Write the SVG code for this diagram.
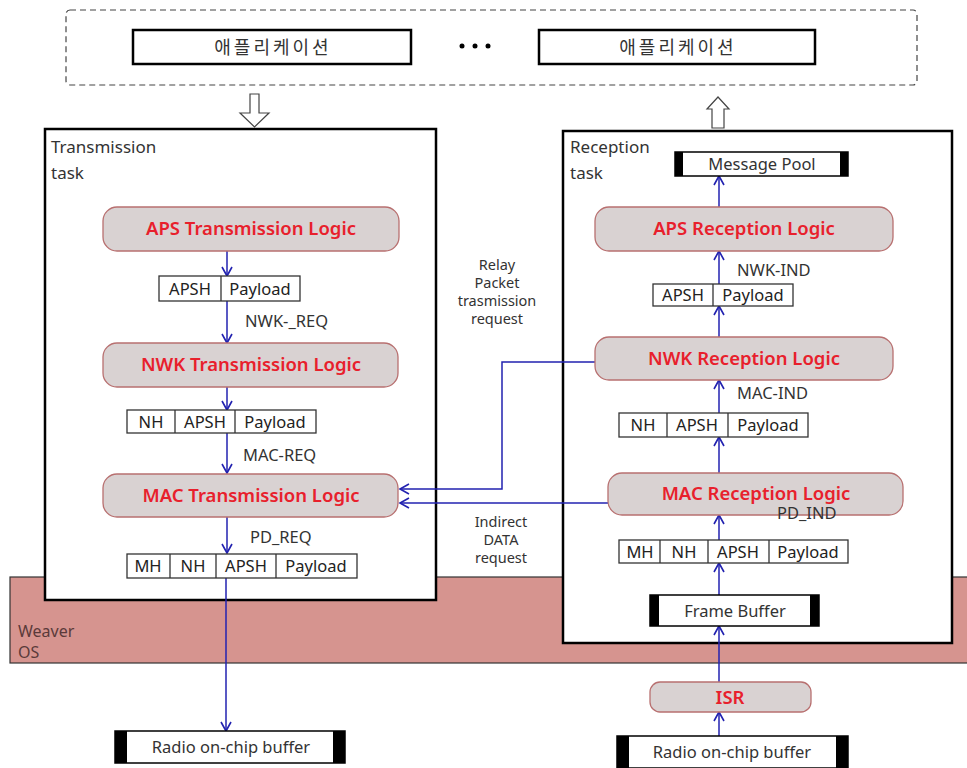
<svg xmlns="http://www.w3.org/2000/svg" width="967" height="768" viewBox="0 0 967 768">
<defs>
<marker id="ah" markerWidth="12" markerHeight="12" refX="10" refY="6" orient="auto" markerUnits="userSpaceOnUse">
<path d="M1,1 L10,6 L1,11" fill="none" stroke="#2222b0" stroke-width="1.6"/>
</marker>
</defs>
<style>
text{font-family:"Noto Sans","Noto Sans CJK KR",sans-serif;fill:#333}
.logic{fill:#d9d2d2;stroke:#b87070;stroke-width:1.3}
.lt{font-size:18.5px;font-weight:600;fill:#e8202c;text-anchor:middle}
.fld{fill:#fff;stroke:#333;stroke-width:1.3}
.ft{font-size:16.5px;fill:#222;text-anchor:middle}
.lbl{font-size:16.5px;fill:#333}
.task{fill:#fff;stroke:#000;stroke-width:2.5}
.buf{fill:#fff;stroke:#000;stroke-width:1.5}
.bar{fill:#000}
.bt{font-size:16.5px;fill:#333;text-anchor:middle}
.kr{font-size:18px;fill:#333;text-anchor:middle;letter-spacing:3px}
.con{fill:none;stroke:#2222b0;stroke-width:1.5}
.mid{font-size:14.5px;fill:#333;text-anchor:middle}
.hollow{fill:#fff;stroke:#444;stroke-width:1.2}
</style>
<rect width="967" height="768" fill="#fff"/>

<g id="weaver-os">
<rect x="10" y="577" width="960" height="86" fill="#d6948f" stroke="#333" stroke-width="1.2"/>
<text x="18" y="637" style="font-size:16px;fill:#5a3a3a">Weaver</text>
<text x="18" y="658" style="font-size:16px;fill:#5a3a3a">OS</text>
</g>

<g id="applications">
<rect x="66" y="10" width="851" height="75" rx="4" fill="#fff" stroke="#444" stroke-width="1.2" stroke-dasharray="6,4"/>
<g id="app1">
<rect x="133" y="30" width="278" height="34" fill="#fff" stroke="#000" stroke-width="2.5"/>
<text x="273" y="54" class="kr">애플리케이션</text>
</g>
<g id="dots">
<circle cx="462" cy="46" r="2.5" fill="#000"/>
<circle cx="475" cy="46" r="2.5" fill="#000"/>
<circle cx="488" cy="46" r="2.5" fill="#000"/>
</g>
<g id="app2">
<rect x="539" y="30" width="276" height="34" fill="#fff" stroke="#000" stroke-width="2.5"/>
<text x="678" y="54" class="kr">애플리케이션</text>
</g>
</g>

<g id="hollow-arrows">
<path class="hollow" d="M250,94 L259,94 L259,113 L269,113 L254.5,127 L240,113 L250,113 Z"/>
<path class="hollow" d="M712,128 L724,128 L724,109 L729,109 L718,97 L707,109 L712,109 Z"/>
</g>

<g id="transmission-task">
<rect class="task" x="45" y="129" width="391" height="471"/>
<text x="51" y="153" style="font-size:17px;fill:#333">Transmission</text>
<text x="51" y="179" style="font-size:17px;fill:#333">task</text>
</g>

<g id="reception-task">
<rect class="task" x="563" y="131" width="389" height="512"/>
<text x="570" y="153" style="font-size:17px;fill:#333">Reception</text>
<text x="570" y="179" style="font-size:17px;fill:#333">task</text>
</g>

<g id="connectors">
<line class="con" x1="227" y1="251" x2="227" y2="276" marker-end="url(#ah)"/>
<line class="con" x1="227" y1="301" x2="227" y2="343" marker-end="url(#ah)"/>
<line class="con" x1="227" y1="387" x2="227" y2="410" marker-end="url(#ah)"/>
<line class="con" x1="227" y1="433" x2="227" y2="473" marker-end="url(#ah)"/>
<line class="con" x1="227" y1="517" x2="227" y2="553" marker-end="url(#ah)"/>
<line class="con" x1="226" y1="578" x2="226" y2="731" marker-end="url(#ah)"/>
<polyline class="con" points="595,362 502,362 502,489 400,489" marker-end="url(#ah)"/>
<line class="con" x1="608" y1="503" x2="400" y2="503" marker-end="url(#ah)"/>
<line class="con" x1="719" y1="207" x2="719" y2="176" marker-end="url(#ah)"/>
<line class="con" x1="719" y1="284" x2="719" y2="251" marker-end="url(#ah)"/>
<line class="con" x1="719" y1="337" x2="719" y2="306" marker-end="url(#ah)"/>
<line class="con" x1="719" y1="413" x2="719" y2="380" marker-end="url(#ah)"/>
<line class="con" x1="719" y1="473" x2="719" y2="437" marker-end="url(#ah)"/>
<line class="con" x1="719" y1="540" x2="719" y2="515" marker-end="url(#ah)"/>
<line class="con" x1="719" y1="595" x2="719" y2="563" marker-end="url(#ah)"/>
<line class="con" x1="719" y1="682" x2="719" y2="626" marker-end="url(#ah)"/>
<line class="con" x1="719" y1="736" x2="719" y2="712" marker-end="url(#ah)"/>
</g>

<g id="aps-tx">
<rect class="logic" x="103" y="207" width="296" height="44" rx="14"/>
<text class="lt" x="251" y="235">APS Transmission Logic</text>
</g>
<g id="frame-tx-1">
<rect class="fld" x="159" y="276" width="141" height="25"/>
<line x1="221" y1="276" x2="221" y2="301" stroke="#333" stroke-width="1.3"/>
<text class="ft" x="190" y="295">APSH</text>
<text class="ft" x="260" y="295">Payload</text>
</g>
<text class="lbl" x="245" y="327">NWK-_REQ</text>
<g id="nwk-tx">
<rect class="logic" x="103" y="343" width="295" height="44" rx="14"/>
<text class="lt" x="251" y="371">NWK Transmission Logic</text>
</g>
<g id="frame-tx-2">
<rect class="fld" x="127" y="410" width="189" height="23"/>
<line x1="175" y1="410" x2="175" y2="433" stroke="#333" stroke-width="1.3"/>
<line x1="235" y1="410" x2="235" y2="433" stroke="#333" stroke-width="1.3"/>
<text class="ft" x="151" y="428">NH</text>
<text class="ft" x="205" y="428">APSH</text>
<text class="ft" x="275" y="428">Payload</text>
</g>
<text class="lbl" x="243" y="461">MAC-REQ</text>
<g id="mac-tx">
<rect class="logic" x="103" y="474" width="295" height="43" rx="14"/>
<text class="lt" x="251" y="502">MAC Transmission Logic</text>
</g>
<text class="lbl" x="250" y="543">PD_REQ</text>
<g id="frame-tx-3">
<rect class="fld" x="127" y="554" width="230" height="24"/>
<line x1="170" y1="554" x2="170" y2="578" stroke="#333" stroke-width="1.3"/>
<line x1="216" y1="554" x2="216" y2="578" stroke="#333" stroke-width="1.3"/>
<line x1="276" y1="554" x2="276" y2="578" stroke="#333" stroke-width="1.3"/>
<text class="ft" x="148" y="572">MH</text>
<text class="ft" x="193" y="572">NH</text>
<text class="ft" x="246" y="572">APSH</text>
<text class="ft" x="316" y="572">Payload</text>
</g>
<g id="radio-tx">
<rect class="buf" x="115" y="731" width="230" height="32"/>
<rect class="bar" x="115" y="731" width="12" height="32"/>
<rect class="bar" x="333" y="731" width="12" height="32"/>
<text class="bt" x="231" y="753">Radio on-chip buffer</text>
</g>

<text class="mid" x="497" y="270">Relay</text>
<text class="mid" x="497" y="288">Packet</text>
<text class="mid" x="497" y="306">trasmission</text>
<text class="mid" x="497" y="324">request</text>
<text class="mid" x="501" y="527">Indirect</text>
<text class="mid" x="501" y="545">DATA</text>
<text class="mid" x="501" y="563">request</text>

<g id="message-pool">
<rect class="buf" x="675" y="152" width="173" height="24"/>
<rect class="bar" x="675" y="152" width="8" height="24"/>
<rect class="bar" x="840" y="152" width="8" height="24"/>
<text class="bt" x="762" y="170">Message Pool</text>
</g>
<g id="aps-rx">
<rect class="logic" x="595" y="207" width="298" height="44" rx="14"/>
<text class="lt" x="744" y="235">APS  Reception Logic</text>
</g>
<text class="lbl" x="737" y="276">NWK-IND</text>
<g id="frame-rx-1">
<rect class="fld" x="653" y="284" width="140" height="22"/>
<line x1="713" y1="284" x2="713" y2="306" stroke="#333" stroke-width="1.3"/>
<text class="ft" x="683" y="301">APSH</text>
<text class="ft" x="753" y="301">Payload</text>
</g>
<g id="nwk-rx">
<rect class="logic" x="595" y="337" width="298" height="43" rx="14"/>
<text class="lt" x="744" y="365">NWK Reception Logic</text>
</g>
<text class="lbl" x="737" y="399">MAC-IND</text>
<g id="frame-rx-2">
<rect class="fld" x="619" y="413" width="189" height="24"/>
<line x1="667" y1="413" x2="667" y2="437" stroke="#333" stroke-width="1.3"/>
<line x1="728" y1="413" x2="728" y2="437" stroke="#333" stroke-width="1.3"/>
<text class="ft" x="643" y="431">NH</text>
<text class="ft" x="697" y="431">APSH</text>
<text class="ft" x="768" y="431">Payload</text>
</g>
<g id="mac-rx">
<rect class="logic" x="608" y="473" width="295" height="42" rx="14"/>
<text class="lt" x="756" y="500">MAC Reception Logic</text>
</g>
<text class="lbl" x="777" y="519">PD_IND</text>
<g id="frame-rx-3">
<rect class="fld" x="619" y="540" width="229" height="23"/>
<line x1="660" y1="540" x2="660" y2="563" stroke="#333" stroke-width="1.3"/>
<line x1="708" y1="540" x2="708" y2="563" stroke="#333" stroke-width="1.3"/>
<line x1="769" y1="540" x2="769" y2="563" stroke="#333" stroke-width="1.3"/>
<text class="ft" x="640" y="558">MH</text>
<text class="ft" x="684" y="558">NH</text>
<text class="ft" x="738" y="558">APSH</text>
<text class="ft" x="808" y="558">Payload</text>
</g>
<g id="frame-buffer">
<rect class="buf" x="650" y="595" width="169" height="31"/>
<rect class="bar" x="650" y="595" width="9" height="31"/>
<rect class="bar" x="810" y="595" width="9" height="31"/>
<text class="bt" x="735" y="617">Frame Buffer</text>
</g>
<g id="isr">
<rect class="logic" x="650" y="682" width="161" height="30" rx="10"/>
<text class="lt" x="730" y="704">ISR</text>
</g>
<g id="radio-rx">
<rect class="buf" x="617" y="736" width="231" height="32"/>
<rect class="bar" x="617" y="736" width="12" height="32"/>
<rect class="bar" x="836" y="736" width="12" height="32"/>
<text class="bt" x="732" y="758">Radio on-chip buffer</text>
</g>
</svg>
